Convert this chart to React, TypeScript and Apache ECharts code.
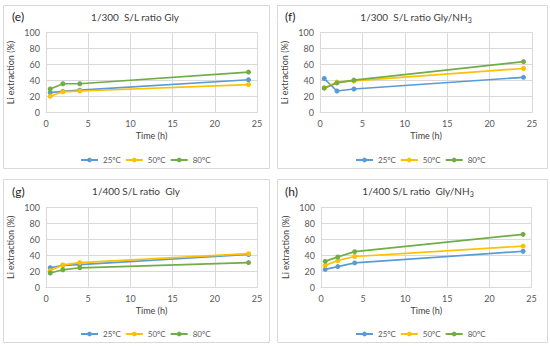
import React, { useEffect, useRef } from "react";
import * as echarts from "echarts";

const times = [0.5, 2, 4, 24];
const seriesNames = ["25ºC", "50ºC", "80ºC"];
const colors = ["#5B9BD5", "#FFC000", "#70AD47"];

const panelLabels = ["(e)", "(f)", "(g)", "(h)"];
const panelTitles = [
  "1/300  S/L ratio Gly",
  "1/300  S/L ratio Gly/NH{sub|3}",
  "1/400 S/L ratio  Gly",
  "1/400 S/L ratio  Gly/NH{sub|3}",
];

const xTicks = [0, 5, 10, 15, 20, 25];
const yTicks = [0, 20, 40, 60, 80, 100];

// values per panel: [25ºC, 50ºC, 80ºC]
const panelE25 = [25, 26.5, 28, 41];
const panelE50 = [20.5, 26, 27, 35];
const panelE80 = [29.5, 36, 36, 50.5];

const panelF25 = [42.5, 27, 29.5, 44];
const panelF50 = [31, 38, 39.5, 55];
const panelF80 = [30.5, 37, 40.5, 63.5];

const panelG25 = [24.5, 27.5, 28.5, 41];
const panelG50 = [21, 28, 31, 42];
const panelG80 = [18, 22, 24.5, 31];

const panelH25 = [22.5, 26, 30.5, 45];
const panelH50 = [27.5, 33.5, 38.5, 51.5];
const panelH80 = [32.5, 38, 44.5, 66];

const panelData = [
  [panelE25, panelE50, panelE80],
  [panelF25, panelF50, panelF80],
  [panelG25, panelG50, panelG80],
  [panelH25, panelH50, panelH80],
];

const FONT = "Lato, 'Noto Sans', sans-serif";

// layout
const boxes = [
  { x: 3, y: 5, w: 266, h: 163 },
  { x: 277, y: 5, w: 270, h: 163 },
  { x: 3, y: 179, w: 266, h: 163 },
  { x: 277, y: 179, w: 270, h: 163 },
];
const grids = [
  { left: 46, top: 32.3, width: 211, height: 80.4 },
  { left: 320, top: 32.3, width: 212, height: 80.4 },
  { left: 46, top: 207, width: 211, height: 80.5 },
  { left: 321, top: 207, width: 210.5, height: 80.5 },
];
const titlePos = [
  { x: 135, y: 17 },
  { x: 416, y: 17 },
  { x: 136, y: 191 },
  { x: 418, y: 191 },
];
const labelPos = [
  { x: 12, y: 16 },
  { x: 285, y: 16 },
  { x: 12, y: 191 },
  { x: 285, y: 191 },
];
const legendPos = [
  { left: 75, top: 151 },
  { left: 350, top: 151 },
  { left: 75, top: 325 },
  { left: 350, top: 325 },
];

export default function App() {
  const ref = useRef<HTMLDivElement>(null);
  useEffect(() => {
    if (!ref.current) return;
    const chart = echarts.init(ref.current, undefined, { renderer: "svg" });

    const grid = grids.map((g) => ({ ...g, containLabel: false }));
    const xAxis = grids.map((_, i) => ({
      type: "value",
      gridIndex: i,
      min: 0,
      max: 25,
      interval: 5,
      name: "Time (h)",
      nameLocation: "middle",
      nameGap: 18,
      nameTextStyle: { fontSize: 9, color: "#404040", fontFamily: FONT },
      axisLine: { show: true, lineStyle: { color: "#D9D9D9", width: 1 } },
      axisTick: { show: false },
      axisLabel: { fontSize: 9, color: "#595959", fontFamily: FONT, margin: 6 },
      splitLine: { show: true, lineStyle: { color: "#D9D9D9", width: 1 } },
    }));
    const yAxis = grids.map((_, i) => ({
      type: "value",
      gridIndex: i,
      min: 0,
      max: 100,
      interval: 20,
      name: "Li extraction (%)",
      nameLocation: "middle",
      nameGap: 31,
      nameTextStyle: { fontSize: 9, color: "#404040", fontFamily: FONT },
      axisLine: { show: false },
      axisTick: { show: false },
      axisLabel: { fontSize: 9, color: "#595959", fontFamily: FONT, margin: 6 },
      splitLine: { show: true, lineStyle: { color: "#D9D9D9", width: 1 } },
    }));

    const series: any[] = [];
    panelData.forEach((panel, p) => {
      panel.forEach((vals, s) => {
        series.push({
          type: "line",
          name: seriesNames[s],
          xAxisIndex: p,
          yAxisIndex: p,
          data: times.map((t, k) => [t, vals[k]]),
          symbol: "circle",
          symbolSize: 5,
          lineStyle: { color: colors[s], width: 1.7 },
          itemStyle: { color: colors[s] },
          z: 2 + s,
        });
      });
    });

    const legend = legendPos.map((lp) => ({
      left: lp.left,
      top: lp.top,
      data: seriesNames,
      itemWidth: 17,
      itemHeight: 6,
      itemGap: 4,
      textStyle: { fontSize: 8, color: "#595959", fontFamily: FONT },
      selectedMode: false,
    }));

    const graphic: any[] = [];
    boxes.forEach((b) => {
      graphic.push({
        type: "rect",
        shape: { x: b.x + 0.5, y: b.y + 0.5, width: b.w, height: b.h },
        style: { fill: "none", stroke: "#D9D9D9", lineWidth: 1 },
        silent: true,
        z: -1,
      });
    });
    titlePos.forEach((tp, i) => {
      graphic.push({
        type: "text",
        x: tp.x,
        y: tp.y,
        style: {
          text: panelTitles[i],
          fontSize: 10,
          fontFamily: FONT,
          fill: "#404040",
          align: "center",
          verticalAlign: "middle",
          rich: {
            sub: { fontSize: 7, fontFamily: FONT, fill: "#404040", padding: [6, 0, 0, 0] },
          },
        },
      });
    });
    labelPos.forEach((lp, i) => {
      graphic.push({
        type: "text",
        x: lp.x,
        y: lp.y,
        style: {
          text: panelLabels[i],
          fontSize: 12,
          fontFamily: FONT,
          fill: "#222222",
          align: "left",
          verticalAlign: "middle",
        },
      });
    });

    chart.setOption({
      animation: false,
      backgroundColor: "#ffffff",
      grid,
      xAxis,
      yAxis,
      series,
      legend,
      graphic,
    });
    return () => chart.dispose();
  }, []);
  return (
    <div
      ref={ref}
      style={{ position: "fixed", left: 0, top: 0, width: 550, height: 348 }}
    />
  );
}
